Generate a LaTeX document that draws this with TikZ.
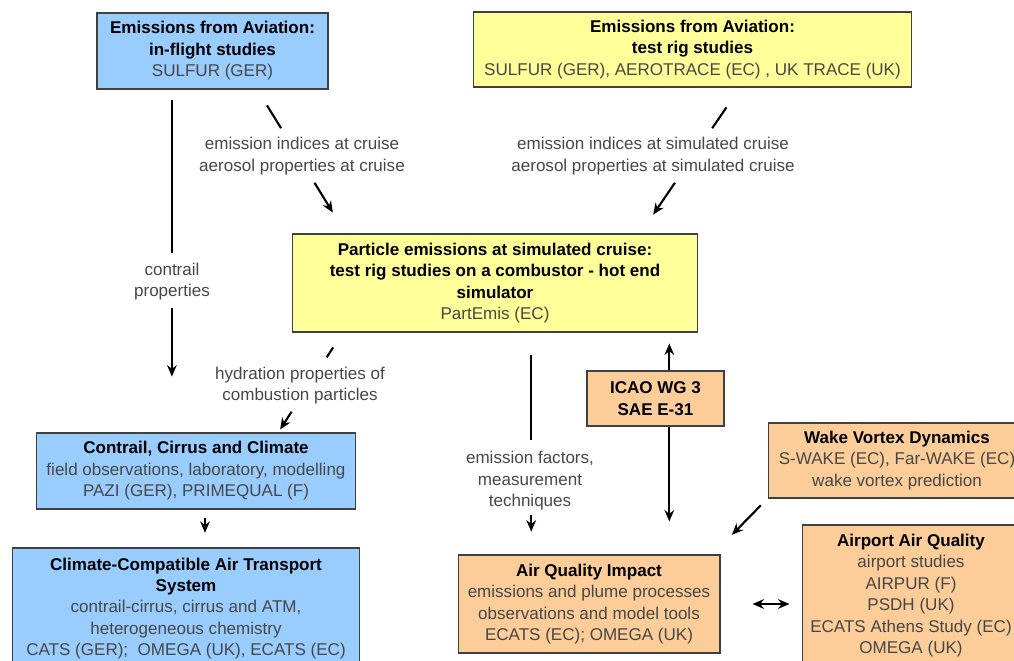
\documentclass[tikz,border=0pt]{standalone}
\usepackage{fontspec}
\setmainfont{Liberation Sans}
\usetikzlibrary{positioning,calc,arrows.meta}
\definecolor{skyblue}{RGB}{153,204,255}
\definecolor{paleyellow}{RGB}{255,255,153}
\definecolor{peach}{RGB}{252,204,153}
\newcommand{\boxhead}[1]{\textcolor{black}{\textbf{#1}}}

\begin{document}
\begin{tikzpicture}[x=0.02cm,y=-0.02cm,every node/.style={font=\fontsize{9.7}{12.2}\selectfont, align=center, text=black!72},box/.style={draw=black!75, line width=0.6pt, inner sep=0pt},conn/.style={line width=1.2pt},arr/.style={conn, -{Stealth[length=6.5pt,width=5.5pt]}}]
\useasboundingbox (0,0) rectangle (1014,661);
\clip (0,0) rectangle (1014,661);

\node[box, fill=skyblue, minimum width=4.62cm, minimum height=1.52cm] (flight) at (212.5,51) {\boxhead{Emissions from Aviation:}\\\boxhead{in-flight studies}\\SULFUR (GER)};
\node[box, fill=paleyellow, minimum width=8.78cm, minimum height=1.50cm] (testrig) at (692.5,49.5) {\boxhead{Emissions from Aviation:}\\\boxhead{test rig studies}\\SULFUR (GER), AEROTRACE (EC) , UK TRACE (UK)};
\node[box, fill=paleyellow, minimum width=8.12cm, minimum height=1.96cm] (partemis) at (495,283) {\boxhead{Particle emissions at simulated cruise:}\\\boxhead{test rig studies on a combustor - hot end}\\\boxhead{simulator}\\PartEmis (EC)};
\node[box, fill=skyblue, minimum width=6.40cm, minimum height=1.52cm] (contrail) at (196,471) {\boxhead{Contrail, Cirrus and Climate}\\field observations, laboratory, modelling\\PAZI (GER), PRIMEQUAL (F)};
\node[box, fill=skyblue, minimum width=6.96cm, minimum height=2.42cm] (climate) at (186,608.5) {\boxhead{Climate-Compatible Air Transport}\\\boxhead{System}\\contrail-cirrus, cirrus and ATM,\\heterogeneous chemistry\\CATS (GER);\ \ OMEGA (UK), ECATS (EC)};
\node[box, fill=peach, minimum width=2.74cm, minimum height=1.10cm] (icao) at (655.5,398.5) {\boxhead{ICAO WG 3}\\\boxhead{SAE E-31}};
\node[box, fill=peach, minimum width=5.24cm, minimum height=1.96cm] (airq) at (589,604) {\boxhead{Air Quality Impact}\\emissions and plume processes\\observations and model tools\\ECATS (EC); OMEGA (UK)};
\node[box, fill=peach, minimum width=5.16cm, minimum height=1.50cm] (wake) at (897,460.5) {\boxhead{Wake Vortex Dynamics}\\S-WAKE (EC), Far-WAKE (EC)\\wake vortex prediction};
\node[box, fill=peach, minimum width=4.36cm, minimum height=2.82cm] (airport) at (911,595.5) {\boxhead{Airport Air Quality}\\airport studies\\AIRPUR (F)\\PSDH (UK)\\ECATS Athens Study (EC)\\OMEGA (UK)};

\node (lcontrail) at (172,281.5) {contrail\\properties};
\node (lcruise) at (302,156) {emission indices at cruise\\aerosol properties at cruise};
\node (lsimcruise) at (653,156) {emission indices at simulated cruise\\aerosol properties at simulated cruise};
\node (lhydration) at (300,385.5) {hydration properties of\\combustion particles};
\node (lfactors) at (530,481) {emission factors,\\measurement\\techniques};

\coordinate (p1) at ($(flight.south west)!0.325!(flight.south east)$);
\coordinate (q1) at (p1 |- contrail.north);
\draw[conn] ($(p1)!0.032!(q1)$) -- ($(p1)!0.477!(q1)$);
\draw[arr] ($(p1)!0.637!(q1)$) -- ($(p1)!0.837!(q1)$);

\coordinate (p2) at ($(flight.south west)!0.693!(flight.south east)$);
\coordinate (q2) at ($(partemis.north west)!0.133!(partemis.north east)$);
\draw[conn] ($(p2)!0.11!(q2)$) -- ($(p2)!0.269!(q2)$);
\draw[arr] ($(p2)!0.648!(q2)$) -- ($(p2)!0.855!(q2)$);

\coordinate (p3) at ($(testrig.south west)!0.608!(testrig.south east)$);
\coordinate (q3) at ($(partemis.north west)!0.857!(partemis.north east)$);
\draw[conn] ($(p3)!0.136!(q3)$) -- ($(p3)!0.279!(q3)$);
\draw[arr] ($(p3)!0.653!(q3)$) -- ($(p3)!0.871!(q3)$);

\coordinate (p4) at ($(partemis.south west)!0.126!(partemis.south east)$);
\coordinate (q4) at ($(contrail.north west)!0.756!(contrail.north east)$);
\draw[conn] ($(p4)!0.149!(q4)$) -- ($(p4)!0.248!(q4)$);
\draw[arr] ($(p4)!0.792!(q4)$) -- ($(p4)!0.970!(q4)$);

\coordinate (p5) at ($(contrail.south west)!0.528!(contrail.south east)$);
\coordinate (q5) at (p5 |- climate.north);
\draw[arr] ($(p5)!0.23!(q5)$) -- ($(p5)!0.615!(q5)$);

\coordinate (p6) at ($(partemis.south west)!0.589!(partemis.south east)$);
\coordinate (q6) at (p6 |- airq.north);
\draw[conn] ($(p6)!0.103!(q6)$) -- ($(p6)!0.484!(q6)$);
\draw[arr] ($(p6)!0.821!(q6)$) -- ($(p6)!0.897!(q6)$);

\coordinate (p7) at ($(icao.north west)!0.6!(icao.north east)$);
\coordinate (p8) at ($(icao.south west)!0.6!(icao.south east)$);
\draw[arr, shorten >=0.22cm] (p7) -- (p7 |- partemis.south);
\draw[arr, shorten >=0.66cm] (p8) -- (p8 |- airq.north);

\coordinate (q9) at ($(airq.north west)!0.97!(airq.north east)$);
\draw[arr] ($(wake.south west)!0.123!(q9)$) -- ($(wake.south west)!0.649!(q9)$);

\draw[conn, {Stealth[length=6.5pt,width=5.5pt]}-{Stealth[length=6.5pt,width=5.5pt]}, shorten <=0.64cm, shorten >=0.24cm] (airq.east) -- (airq.east -| airport.west);
\end{tikzpicture}
\end{document}
